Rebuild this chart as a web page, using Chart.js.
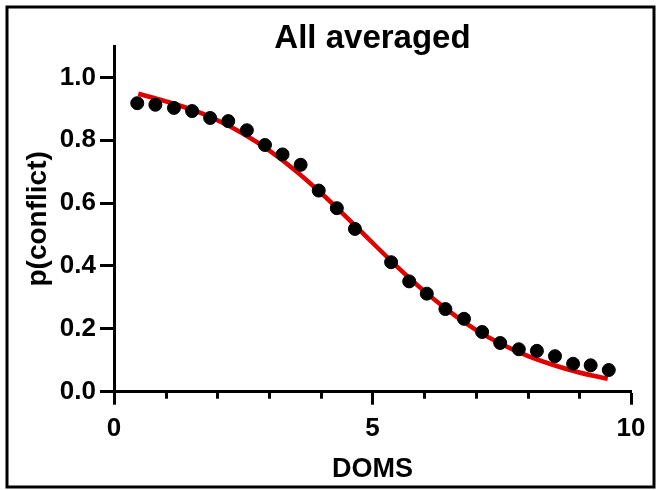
<!DOCTYPE html>
<html>
<head>
<meta charset="utf-8">
<script src="https://cdn.jsdelivr.net/npm/chart.js@4.4.0/dist/chart.umd.min.js"></script>
<style>
    html, body { margin: 0; padding: 0; background: #fff; }
</style>
</head>
<body>
<canvas id="myChart" width="658" height="490"></canvas>
<script>
// averaged points (DOMS vs p(conflict))
const domsX = [0.45, 0.80, 1.16, 1.51, 1.86, 2.21, 2.57, 2.92, 3.26, 3.61, 3.96, 4.31, 4.66,
               5.36, 5.71, 6.05, 6.41, 6.77, 7.12, 7.47, 7.83, 8.18, 8.53, 8.88, 9.22, 9.57];
const pConflict = [0.918, 0.913, 0.903, 0.893, 0.871, 0.861, 0.832, 0.785, 0.755, 0.722, 0.640, 0.584, 0.518,
                   0.412, 0.351, 0.312, 0.263, 0.232, 0.190, 0.155, 0.135, 0.130, 0.113, 0.089, 0.084, 0.069];

// fitted curve
const fitX = [0.47, 1.0, 1.5, 2.0, 2.5, 3.0, 3.5, 4.0, 4.5, 5.0, 5.5, 6.0, 6.5, 7.0, 7.5, 8.0, 8.5, 9.0, 9.55];
const fitY = [0.948, 0.924, 0.898, 0.864, 0.821, 0.768, 0.705, 0.633, 0.555, 0.474, 0.394, 0.320, 0.254,
              0.197, 0.151, 0.114, 0.085, 0.061, 0.041];

const xMajorTicks = [0, 5, 10];
const yTickStep = 0.2;

const FONT = "'Liberation Sans', Arial, sans-serif";

const pointsData = domsX.map((x, i) => ({ x: x, y: pConflict[i] }));
const fitData = fitX.map((x, i) => ({ x: x, y: fitY[i] }));

// frame round the figure + short minor ticks on the x axis
const extras = {
    id: 'extras',
    afterDraw(chart) {
        const ctx = chart.ctx;
        const xs = chart.scales.x;
        ctx.save();
        ctx.strokeStyle = '#000';
        ctx.lineWidth = 3;
        ctx.strokeRect(7, 7, 647, 480);
        const y0 = chart.chartArea.bottom;
        for (let v = 1; v < 10; v++) {
            if (xMajorTicks.includes(v)) continue;
            const px = Math.round(xs.getPixelForValue(v)) + 0.5;
            ctx.beginPath();
            ctx.moveTo(px, y0);
            ctx.lineTo(px, y0 + 7);
            ctx.stroke();
        }
        ctx.restore();
    }
};

const ctx = document.getElementById('myChart').getContext('2d');
const myChart = new Chart(ctx, {
    type: 'scatter',
    data: {
        datasets: [{
            label: 'All averaged',
            data: pointsData,
            backgroundColor: '#000',
            borderColor: '#000',
            pointRadius: 6.5,
            pointHoverRadius: 6.5
        }, {
            label: 'fit',
            data: fitData,
            showLine: true,
            borderColor: '#e00000',
            borderWidth: 4.5,
            pointRadius: 0,
            cubicInterpolationMode: 'monotone'
        }]
    },
    options: {
        responsive: false,
        animation: false,
        devicePixelRatio: 1,
        layout: { padding: { left: 10, right: 27, top: 0, bottom: 0 } },
        plugins: {
            legend: { display: false },
            tooltip: { enabled: false },
            title: {
                display: true,
                text: 'All averaged',
                fullSize: false,
                color: '#000',
                font: { family: FONT, size: 33, weight: 'bold' },
                padding: { top: 19, bottom: -12.6 }
            }
        },
        scales: {
            x: {
                type: 'linear',
                min: 0,
                max: 10,
                afterFit: function (scale) { scale.height = 98.3; },
                border: { display: true, color: '#000', width: 3 },
                grid: {
                    drawOnChartArea: false,
                    drawTicks: true,
                    tickLength: 13,
                    tickWidth: 3,
                    tickColor: c => (c.tick && xMajorTicks.includes(c.tick.value)) ? '#000' : 'rgba(0,0,0,0)'
                },
                ticks: {
                    stepSize: 1,
                    autoSkip: false,
                    maxRotation: 0,
                    padding: 9,
                    color: '#000',
                    font: { family: FONT, size: 26, weight: 'bold' },
                    callback: v => xMajorTicks.includes(v) ? String(v) : ''
                },
                title: {
                    display: true,
                    text: 'DOMS',
                    color: '#000',
                    font: { family: FONT, size: 27, weight: 'bold' },
                    padding: { top: 0, bottom: 4 }
                }
            },
            y: {
                type: 'linear',
                min: 0,
                max: 1.1,
                afterFit: function (scale) { scale.width = 104; },
                border: { display: true, color: '#000', width: 3 },
                grid: {
                    drawOnChartArea: false,
                    drawTicks: true,
                    tickLength: 14,
                    tickWidth: 3,
                    tickColor: '#000'
                },
                ticks: {
                    stepSize: yTickStep,
                    includeBounds: false,
                    padding: 4,
                    color: '#000',
                    font: { family: FONT, size: 26, weight: 'bold' },
                    callback: v => v.toFixed(1)
                },
                title: {
                    display: true,
                    text: 'p(conflict)',
                    color: '#000',
                    font: { family: FONT, size: 28, weight: 'bold' },
                    padding: { top: 11, bottom: 0 }
                }
            }
        }
    },
    plugins: [extras]
});
</script>
</body>
</html>
